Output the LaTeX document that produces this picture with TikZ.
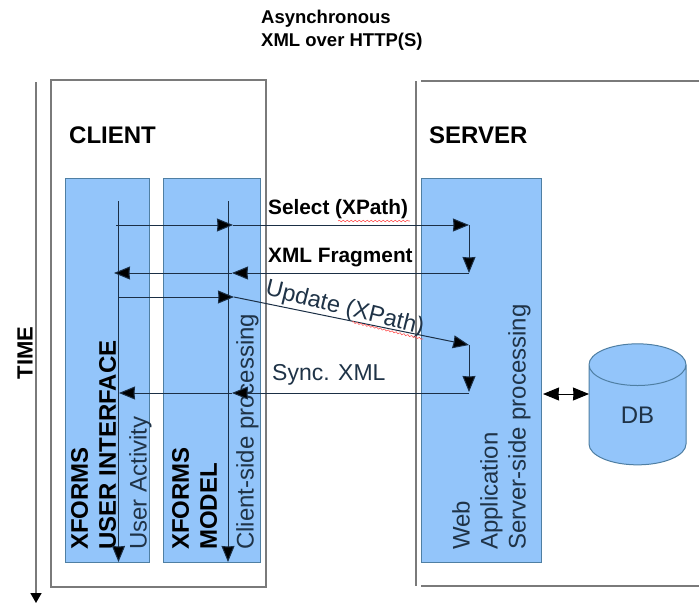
\documentclass[tikz,border=0pt]{standalone}
\usepackage{fontspec}
\setmainfont{Liberation Sans}
\usetikzlibrary{positioning, arrows.meta, shapes.geometric, decorations.pathmorphing}
\definecolor{boxfill}{HTML}{93C5FA}
\definecolor{boxline}{HTML}{4F7FA3}
\definecolor{frameline}{HTML}{7A7A7A}
\definecolor{flowline}{HTML}{1B2F45}
\definecolor{labeltext}{HTML}{1F3347}
\tikzset{
    node distance=13pt,
    lane/.style={ % blue columns
        draw=boxline, line width=1pt, fill=boxfill,
        minimum height=384pt, inner sep=0pt, anchor=north west
    },
    frame/.style={draw=frameline, line width=1.6pt},
    flow/.style={
        draw=flowline, line width=1pt,
        >={Stealth[length=16pt,width=13pt,inset=0.5pt]}
    },
    every edge/.style={draw, ->},
    sidelabel/.style={
        rotate=90, anchor=north west, align=left, inner sep=0pt,
        text=labeltext, font=\fontsize{24}{28}\selectfont
    },
    boldside/.style={sidelabel, text=black, font=\fontsize{24}{28}\selectfont\bfseries},
    title/.style={inner sep=0pt, anchor=west, text=black, font=\fontsize{24}{28}\selectfont\bfseries},
    msg/.style={inner sep=0pt, anchor=west, text=black},
    spell/.style={draw=red!65, line width=0.6pt, decorate,
        decoration={snake, amplitude=0.8pt, segment length=4pt}}
}
\begin{document}
\begin{tikzpicture}[x=1pt, y=-1pt]
    \useasboundingbox (0,0) rectangle (699,603);
    \fill[white] (0,0) rectangle (699,603);

    % frames
    \node[frame, minimum width=215pt, minimum height=507pt, inner sep=0pt, anchor=north west] (client) at (50,79) {};
    \coordinate (srvtl) at (416,81);
    \coordinate (srvbl) at (416,586);
    \coordinate (srvtl2) at (421,81);
    \coordinate (srvbl2) at (421,586);
    \coordinate (srvtr) at (699,81);
    \coordinate (srvbr) at (699,586);
    \draw[frame] (srvtl) -- (srvbl);
    \draw[frame] (srvtl2) -- (srvtr);
    \draw[frame] (srvbl2) -- (srvbr);

    % time
    \coordinate (time1) at (36,82);
    \coordinate (time2) at (36,603);
    \draw[frame, -{Stealth[length=10pt,width=11pt,inset=0pt,color=black]}] (time1) -- (time2);
    \node[rotate=90, inner sep=0pt, text=black, font=\fontsize{22}{26}\selectfont\bfseries] (time) at (25,353) {TIME};

    % columns
    \node[lane, minimum width=84pt] (ui) at (65,178) {};
    \node[lane, minimum width=97pt, right=13pt of ui.north east, anchor=north west] (model) {};
    \node[lane, minimum width=120pt] (srv) at (421,178) {};
    \node[cylinder, shape border rotate=90, draw=boxline, line width=1pt, fill=boxfill,
          cylinder uses custom fill, cylinder body fill=boxfill, cylinder end fill=boxfill,
          minimum width=97pt, minimum height=121pt, aspect=1.25, inner sep=0pt,
          text=labeltext, font=\fontsize{24}{28}\selectfont] (db) at (637.5,415) {DB};

    % texts
    \node[inner sep=0pt, anchor=north west, align=left, text=black,
          font=\fontsize{18.5}{23}\selectfont\bfseries] (head) at (261,10) {Asynchronous\\XML over HTTP(S)};
    \node[title] (clientlabel) at (69,135) {CLIENT};
    \node[title, right=360pt of clientlabel.west, anchor=west] (serverlabel) {SERVER};
    \node[boldside] (uilabel) at (71,550) {XFORMS\\USER INTERFACE};
    \node[sidelabel] (uiact) at (129,550) {User Activity};
    \node[boldside] (modellabel) at (172,550) {XFORMS\\MODEL};
    \node[sidelabel] (modelact) at (236,550) {Client-side processing};
    \node[sidelabel] (srvlabel) at (452,550) {Web\\Application\\Server-side processing};

    % message points
    \coordinate (uitop) at (118.5,201);
    \coordinate (uibot) at (118.5,562);
    \coordinate (modeltop) at (228,201);
    \coordinate (modelbot) at (228,562);
    \coordinate (sela) at (116,225);
    \coordinate (selb) at (233,225);
    \coordinate (selc) at (469,225);
    \coordinate (seld) at (469,273);
    \coordinate (frage) at (232,273);
    \coordinate (fragf) at (114,273);
    \coordinate (upda) at (118,297);
    \coordinate (updb) at (234,297);
    \coordinate (updc) at (469,345);
    \coordinate (updd) at (469,392);
    \coordinate (synca) at (469,393);
    \coordinate (syncb) at (232,393);
    \coordinate (syncc) at (119,393);
    \coordinate (srvdb) at (589,394);
    \coordinate (dbsrv) at (543,394);

    \draw[flow]
        % lifelines
        (uitop)     edge                (uibot)
        (modeltop)  edge                (modelbot)
        % select
        (sela)      edge                (selb)
        (selb)      edge                (selc)
        (selc)      edge                (seld)
        % fragment
        (seld)      edge                (frage)
        (frage)     edge                (fragf)
        % update
        (upda)      edge                (updb)
        (updb)      edge                (updc)
        (updc)      edge                (updd)
        % sync
        (synca)     edge                (syncb)
        (syncb)     edge                (syncc)
    ;
    \draw[flow, black, <->] (dbsrv) -- (srvdb);

    % message labels
    \node[msg, font=\fontsize{20.8}{24}\selectfont\bfseries] (sel) at (268,209) {Select (XPath)};
    \node[msg, font=\fontsize{20.8}{24}\selectfont\bfseries] (frag) at (268,258) {XML Fragment};
    \node[msg, rotate=-14, text=labeltext, font=\fontsize{23.5}{28}\selectfont] (upd) at (266,289) {Update (XPath)};
    \node[msg, text=labeltext, font=\fontsize{23}{28}\selectfont] (sync) at (272,375) {Sync. XML};

    % spell check marks
    \coordinate (selwa) at (338,221);
    \coordinate (selwb) at (410,221);
    \coordinate (updwa) at (352,322);
    \coordinate (updwb) at (423,339);
    \draw[spell] (selwa) -- (selwb);
    \draw[spell] (updwa) -- (updwb);
\end{tikzpicture}
\end{document}
